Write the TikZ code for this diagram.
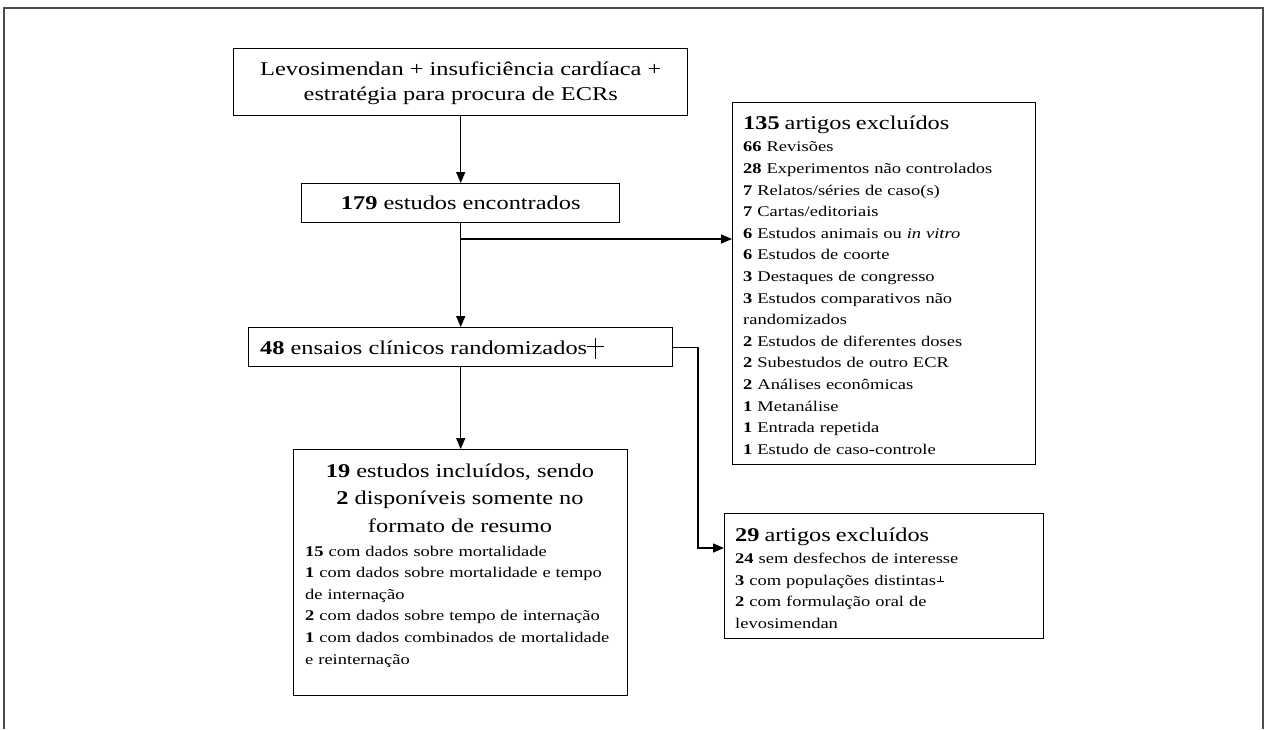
\documentclass[tikz,border=0pt]{standalone}
\usepackage{fontspec}
\setmainfont[FakeStretch=1.25]{Liberation Serif}
\usetikzlibrary{arrows.meta}
\setlength{\parindent}{0pt}
\newcommand\myheadfont{\fontsize{19.5}{25}\selectfont}
\newcommand\myitemfont{\fontsize{14.8}{21.6}\selectfont}
\newcommand\mycross{\makebox[17pt][l]{\rule[7.1pt]{17pt}{1.5pt}\hspace{-9.4pt}\rule[-4.8pt]{1.5pt}{21pt}}}
\newcommand\myperp{\makebox[8pt][l]{\hspace{0.5pt}\rule[3.5pt]{7pt}{0.9pt}\hspace{-4pt}\rule[3.5pt]{0.9pt}{5.5pt}}}
\begin{document}
\begin{tikzpicture}[x=1pt,y=-1pt,
  box/.style={draw, line width=1.4pt, inner sep=0pt, anchor=north west},
  txt/.style={inner sep=0pt, text=black},
  arr/.style={line width=1.3pt, -{Triangle[length=11pt,width=9pt]}},
  frameline/.style={draw=black!70, line width=1.5pt}]
\useasboundingbox (0,0) rectangle (1265,729);
\draw[frameline] (4,729) -- (4,8) -- (1263,8) -- (1263,729);

% boxes
\node[box, minimum width=454pt, minimum height=67pt] (b1) at (233,48) {};
\node[box, minimum width=318pt, minimum height=39pt] (b2) at (301,183) {};
\node[box, minimum width=303pt, minimum height=362pt] (b3) at (732,102) {};
\node[box, minimum width=424pt, minimum height=39pt] (b4) at (248,327) {};
\node[box, minimum width=319pt, minimum height=125pt] (b5) at (724,513) {};
\node[box, minimum width=334pt, minimum height=246pt] (b6) at (293,449) {};

% texts
\node[txt, align=center, font=\myheadfont] (t1) at ([yshift=-1.5pt]b1.center)
  {Levosimendan + insuficiência cardíaca +\\ estratégia para procura de ECRs};
\node[txt, font=\myheadfont] (t2) at (b2.center) {\textbf{179} estudos encontrados};
\node[txt, anchor=north west, text width=290pt, align=left, font=\myitemfont] (t3) at (743,115.7)
  {{\myheadfont\textbf{135} artigos excluídos}\\[0.8pt]
   \textbf{66} Revisões\\
   \textbf{28} Experimentos não controlados\\
   \textbf{7} Relatos/séries de caso(s)\\
   \textbf{7} Cartas/editoriais\\
   \textbf{6} Estudos animais ou \textit{in vitro}\\
   \textbf{6} Estudos de coorte\\
   \textbf{3} Destaques de congresso\\
   \textbf{3} Estudos comparativos não\\
   randomizados\\
   \textbf{2} Estudos de diferentes doses\\
   \textbf{2} Subestudos de outro ECR\\
   \textbf{2} Análises econômicas\\
   \textbf{1} Metanálise\\
   \textbf{1} Entrada repetida\\
   \textbf{1} Estudo de caso-controle};
\node[txt, anchor=base west, font=\myheadfont] (t4) at (260,354.5)
  {\textbf{48} ensaios clínicos randomizados\mycross};
\node[txt, anchor=north west, text width=305pt, align=left, font=\myitemfont] (t5) at (735,527.4)
  {{\myheadfont\textbf{29} artigos excluídos}\\[1pt]
   \textbf{24} sem desfechos de interesse\\
   \textbf{3} com populações distintas\myperp\\
   \textbf{2} com formulação oral de\\
   levosimendan};
\node[txt, anchor=north, align=center, font=\fontsize{19.5}{27.3}\selectfont] (t6a) at (460,463.7)
  {\textbf{19} estudos incluídos, sendo\\
   \textbf{2} disponíveis somente no\\
   formato de resumo};
\node[txt, anchor=north west, text width=315pt, align=left, font=\myitemfont] (t6b) at (305,545.6)
  {\textbf{15} com dados sobre mortalidade\\
   \textbf{1} com dados sobre mortalidade e tempo\\
   de internação\\
   \textbf{2} com dados sobre tempo de internação\\
   \textbf{1} com dados combinados de mortalidade\\
   e reinternação};

% connectors
\coordinate (br) at (460,239);
\coordinate (k) at (698,548);
\draw[arr] (b1.south) -- (b2.north);
\draw[arr] (b2.south) -- (b4.north);
\draw[arr] (br) -- (br -| b3.west);
\draw[arr] (b4.south) -- (b6.north);
\draw[arr] (b4.east) -| (k) -- (k -| b5.west);
\end{tikzpicture}
\end{document}
